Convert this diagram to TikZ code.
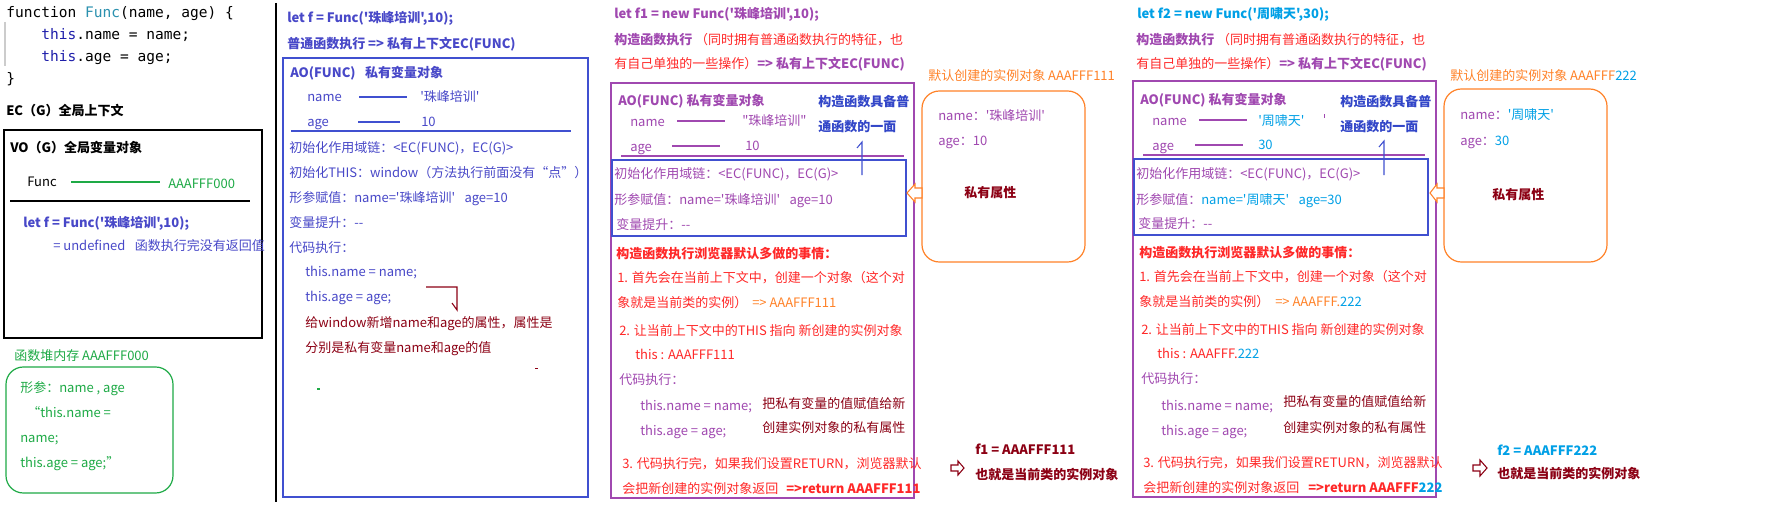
\documentclass[tikz,border=0pt]{standalone}
\usepackage{fontspec}
\newfontfamily\cjkf{Noto Sans CJK SC}
\newfontfamily\codefont{DejaVu Sans Mono}
\definecolor{pblue}{RGB}{72,72,200}
\definecolor{rblue}{RGB}{64,80,208}
\definecolor{ppur}{RGB}{160,72,176}
\definecolor{cred}{RGB}{255,40,40}
\definecolor{corange}{RGB}{255,130,40}
\definecolor{dred}{RGB}{140,0,20}
\definecolor{ccyan}{RGB}{0,160,230}
\definecolor{cgreen}{RGB}{30,170,70}
\definecolor{bblue}{RGB}{50,70,200}
\definecolor{cteal}{RGB}{43,145,175}
\definecolor{cthis}{RGB}{30,30,170}
\newcommand\fsz{\cjkf\fontsize{9.75pt}{12pt}\selectfont}
\newcommand\csz{\codefont\fontsize{10.9pt}{13pt}\selectfont}
\newcommand\gap{\hspace{7pt}}
\tikzset{
  lbl/.style={inner sep=0pt, anchor=west, text height=7.5pt, text depth=0pt, font=\fsz},
  code/.style={inner sep=0pt, anchor=west, text height=8pt, text depth=0pt, font=\csz},
  bx/.style={line width=1pt},
  rbox/.style={line width=0.9pt, rounded corners=13pt},
  tline/.style={line width=0.8pt},
}
\begin{document}
\begin{tikzpicture}[x=0.75pt,y=-0.75pt]
\fill[white] (0,0) rectangle (1766,510);
\useasboundingbox (0,0) rectangle (1766,510);

%% ---------- panel 1 ----------
\draw[gray!40, line width=1pt] (5,22) -- (5,66);
\node[code] (c1) at (6,12) {function \textcolor{cteal}{Func}(name, age) \{};
\node[code] (c2) at (41,34) {\textcolor{cthis}{this}.name = name;};
\node[code] (c3) at (41,56) {\textcolor{cthis}{this}.age = age;};
\node[code] (c4) at (6,78) {\}};
\node[lbl,font=\fsz\bfseries] (ecg) at (6,110) {EC（G）全局上下文};
\draw[bx] (4,130) rectangle (262,338);
\node[lbl,font=\fsz\bfseries] (vog) at (10,147) {VO（G）全局变量对象};
\node[lbl] (vofunc) at (27,181) {Func};
\node[lbl,text=cgreen] (voaddr) at (168,183) {AAAFFF000};
\draw[cgreen,tline] (71,182) -- (160,182);
\draw[line width=0.9pt] (10,201) -- (250,201);
\node[lbl,font=\fsz\bfseries,text=pblue] (vof) at (23,222) {let f = Func('珠峰培训',10);};
\node[lbl,text=pblue] (vou) at (53,245) {= undefined\gap 函数执行完没有返回值};
\node[lbl,text=cgreen] (heapt) at (14,355) {函数堆内存 AAAFFF000};
\draw[cgreen,rbox] (6,367) rectangle (173,493);
\node[lbl,text=cgreen] (h1) at (20,387) {形参：name , age};
\node[lbl,text=cgreen] (h2) at (27,412) {“this.name =};
\node[lbl,text=cgreen] (h3) at (20,437) {name;};
\node[lbl,text=cgreen] (h4) at (20,462) {this.age = age;”};

\draw[line width=1pt] (276,3) -- (276,502);

%% ---------- panel 2 ----------
\node[lbl,font=\fsz\bfseries,text=pblue] (p2a) at (287,18) {let f = Func('珠峰培训',10);};
\node[lbl,font=\fsz\bfseries,text=pblue] (p2b) at (287,44) {普通函数执行 => 私有上下文EC(FUNC)};
\draw[rblue,bx] (283,58) rectangle (588,497);
\node[lbl,font=\fsz\bfseries,text=pblue] (p2ao) at (290,73) {AO(FUNC)\gap 私有变量对象};
\node[lbl,text=pblue] (p2n) at (307,97) {name};
\draw[rblue,tline] (359,97) -- (407,97);
\node[lbl,text=pblue] (p2nv) at (420,97) {'珠峰培训'};
\node[lbl,text=pblue] (p2g) at (307,122) {age};
\draw[rblue,tline] (358,122) -- (400,122);
\node[lbl,text=pblue] (p2gv) at (421,121) {10};
\draw[rblue,tline] (291,131) -- (571,131);
\node[lbl,text=pblue] (p2c) at (289,147) {初始化作用域链：<EC(FUNC)，EC(G)>};
\node[lbl,text=pblue] (p2d) at (289,172) {初始化THIS：window（方法执行前面没有“点”）};
\node[lbl,text=pblue] (p2e) at (289,197) {形参赋值：name='珠峰培训'\gap age=10};
\node[lbl,text=pblue] (p2f) at (289,222) {变量提升：--};
\node[lbl,text=pblue] (p2g2) at (289,247) {代码执行：};
\node[lbl,text=pblue] (p2h) at (305,271) {this.name = name;};
\node[lbl,text=pblue] (p2i) at (305,296) {this.age = age;};
\coordinate (ar1) at (426,287);
\coordinate (ar2) at (457,287);
\coordinate (ar3) at (457,310);
\draw[dred,tline] (ar1) -- (ar2) -- (ar3) -- ++(-5,-7);
\node[lbl,text=dred] (p2j) at (305,322) {给window新增name和age的属性，属性是};
\node[lbl,text=dred] (p2k) at (305,347) {分别是私有变量name和age的值};
\fill[dred] (535,367.5) rectangle (538,369);
\fill[cgreen] (317,388) rectangle (320,390);

%% ---------- panel 3 ----------
\node[lbl,font=\fsz\bfseries,text=ppur] (p3a) at (614,14) {let f1 = new Func('珠峰培训',10);};
\node[lbl,text=ppur] (p3b) at (614,40) {\textbf{构造函数执行} \textcolor{cred}{（同时拥有普通函数执行的特征，也}};
\node[lbl,text=cred] (p3c) at (614,64) {有自己单独的一些操作）\textcolor{ppur}{\bfseries => 私有上下文EC(FUNC)}};
\draw[ppur,bx] (611,83) rectangle (914,498);
\node[lbl,font=\fsz\bfseries,text=ppur] (p3ao) at (618,100) {AO(FUNC) 私有变量对象};
\node[lbl,text=ppur] (p3n) at (630,121) {name};
\draw[ppur,tline] (677,121) -- (725,121);
\node[lbl,text=ppur] (p3nv) at (742,120) {"珠峰培训"};
\node[lbl,text=ppur] (p3g) at (630,146) {age};
\draw[ppur,tline] (672,146) -- (720,146);
\node[lbl,text=ppur] (p3gv) at (745,145) {10};
\node[lbl,font=\fsz\bfseries,text=bblue] (p3k1) at (818,102) {构造函数具备普};
\node[lbl,font=\fsz\bfseries,text=bblue] (p3k2) at (818,127) {通函数的一面};
\draw[ppur,tline] (621,156) -- (904,156);
\draw[rblue,bx] (612,160) rectangle (906,236);
\coordinate (ba1) at (862,175);
\coordinate (ba2) at (862,142);
\draw[rblue,tline] (ba1) -- (ba2) -- ++(-5,6);
\node[lbl,text=ppur] (p3c1) at (614,173) {初始化作用域链：<EC(FUNC)，EC(G)>};
\node[lbl,text=ppur] (p3c2) at (614,199) {形参赋值：name='珠峰培训'\gap age=10};
\node[lbl,text=ppur] (p3c3) at (616,224) {变量提升：--};
\node[lbl,font=\fsz\bfseries,text=cred] (p3d) at (616,253) {构造函数执行浏览器默认多做的事情：};
\node[lbl,text=cred] (p3e1) at (617,277) {1. 首先会在当前上下文中，创建一个对象（这个对};
\node[lbl,text=cred] (p3e2) at (617,302) {象就是当前类的实例）};
\node[lbl,text=corange] (p3e3) at (752,302) {=> AAAFFF111};
\node[lbl,text=cred] (p3f1) at (619,330) {2. 让当前上下文中的THIS 指向 新创建的实例对象};
\node[lbl,text=cred] (p3f2) at (635,354) {this : AAAFFF111};
\node[lbl,text=ppur] (p3g1) at (619,379) {代码执行：};
\node[lbl,text=ppur] (p3g2) at (640,405) {this.name = name;};
\node[lbl,text=ppur] (p3g3) at (640,430) {this.age = age;};
\node[lbl,text=dred] (p3h1) at (762,403) {把私有变量的值赋值给新};
\node[lbl,text=dred] (p3h2) at (762,427) {创建实例对象的私有属性};
\node[lbl,text=cred] (p3i1) at (622,463) {3. 代码执行完，如果我们设置RETURN，浏览器默认};
\node[lbl,text=cred] (p3i2) at (622,488) {会把新创建的实例对象返回};
\node[lbl,font=\fsz\bfseries,text=cred] (p3i3) at (786,488) {=>return AAAFFF111};

%% ---------- instance 1 ----------
\node[lbl,text=corange] (o1t) at (928,75) {默认创建的实例对象 AAAFFF111};
\draw[corange,rbox] (922,91) rectangle (1085,262);
\node[lbl,text=ppur] (o1n) at (938,115) {name：'珠峰培训'};
\node[lbl,text=ppur] (o1g) at (938,140) {age：10};
\node[lbl,font=\fsz\bfseries,text=dred] (o1p) at (964,192) {私有属性};
\draw[corange,fill=white,line width=0.8pt] (907,193) -- (915,184) -- (915,188) -- (922,188) -- (922,198) -- (915,198) -- (915,202) -- cycle;
\node[lbl,font=\fsz\bfseries,text=dred] (r1a) at (975,449) {f1 = AAAFFF111};
\node[lbl,font=\fsz\bfseries,text=dred] (r1b) at (975,474) {也就是当前类的实例对象};
\draw[dred,fill=white,line width=0.8pt] (951,465) -- (958,465) -- (958,461) -- (964,468) -- (958,475) -- (958,471) -- (951,471) -- cycle;

%% ---------- panel 5 ----------
\node[lbl,font=\fsz\bfseries,text=ccyan] (p5a) at (1137,14) {let f2 = new Func('周啸天',30);};
\node[lbl,text=ppur] (p5b) at (1136,40) {\textbf{构造函数执行} \textcolor{cred}{（同时拥有普通函数执行的特征，也}};
\node[lbl,text=cred] (p5c) at (1136,64) {有自己单独的一些操作）\textcolor{ppur}{\bfseries => 私有上下文EC(FUNC)}};
\draw[ppur,bx] (1133,81) rectangle (1436,497);
\node[lbl,font=\fsz\bfseries,text=ppur] (p5ao) at (1140,99) {AO(FUNC) 私有变量对象};
\node[lbl,text=ppur] (p5n) at (1152,120) {name};
\draw[ppur,tline] (1199,120) -- (1247,120);
\node[lbl,text=ccyan] (p5nv) at (1258,120) {'周啸天'};
\draw[ppur,line width=0.6pt] (1324,114) -- (1324,118);
\node[lbl,text=ppur] (p5g) at (1152,145) {age};
\draw[ppur,tline] (1195,145) -- (1243,145);
\node[lbl,text=ccyan] (p5gv) at (1258,144) {30};
\node[lbl,font=\fsz\bfseries,text=bblue] (p5k1) at (1340,102) {构造函数具备普};
\node[lbl,font=\fsz\bfseries,text=bblue] (p5k2) at (1340,127) {通函数的一面};
\draw[ppur,tline] (1143,155) -- (1425,155);
\draw[rblue,bx] (1134,159) rectangle (1428,235);
\coordinate (bb1) at (1384,175);
\coordinate (bb2) at (1384,141);
\draw[rblue,tline] (bb1) -- (bb2) -- ++(-5,6);
\node[lbl,text=ppur] (p5c1) at (1136,173) {初始化作用域链：<EC(FUNC)，EC(G)>};
\node[lbl,text=ppur] (p5c2) at (1136,199) {形参赋值：\textcolor{ccyan}{name='周啸天'\gap age=30}};
\node[lbl,text=ppur] (p5c3) at (1138,223) {变量提升：--};
\node[lbl,font=\fsz\bfseries,text=cred] (p5d) at (1139,252) {构造函数执行浏览器默认多做的事情：};
\node[lbl,text=cred] (p5e1) at (1139,276) {1. 首先会在当前上下文中，创建一个对象（这个对};
\node[lbl,text=cred] (p5e2) at (1139,301) {象就是当前类的实例）};
\node[lbl,text=corange] (p5e3) at (1275,301) {=> AAAFFF.\textcolor{ccyan}{222}};
\node[lbl,text=cred] (p5f1) at (1141,329) {2. 让当前上下文中的THIS 指向 新创建的实例对象};
\node[lbl,text=cred] (p5f2) at (1157,353) {this : AAAFFF.\textcolor{ccyan}{222}};
\node[lbl,text=ppur] (p5g1) at (1141,378) {代码执行：};
\node[lbl,text=ppur] (p5g2) at (1161,405) {this.name = name;};
\node[lbl,text=ppur] (p5g3) at (1161,430) {this.age = age;};
\node[lbl,text=dred] (p5h1) at (1283,401) {把私有变量的值赋值给新};
\node[lbl,text=dred] (p5h2) at (1283,427) {创建实例对象的私有属性};
\node[lbl,text=cred] (p5i1) at (1143,462) {3. 代码执行完，如果我们设置RETURN，浏览器默认};
\node[lbl,text=cred] (p5i2) at (1143,487) {会把新创建的实例对象返回};
\node[lbl,font=\fsz\bfseries,text=cred] (p5i3) at (1308,487) {=>return AAAFFF\textcolor{ccyan}{222}};

%% ---------- instance 2 ----------
\node[lbl,text=corange] (o2t) at (1450,75) {默认创建的实例对象 AAAFFF\textcolor{ccyan}{ 222}};
\draw[corange,rbox] (1444,89) rectangle (1607,262);
\node[lbl,text=ppur] (o2n) at (1460,114) {name：\textcolor{ccyan}{'周啸天'}};
\node[lbl,text=ppur] (o2g) at (1460,140) {age：\textcolor{ccyan}{30}};
\node[lbl,font=\fsz\bfseries,text=dred] (o2p) at (1492,194) {私有属性};
\draw[corange,fill=white,line width=0.8pt] (1430,193) -- (1437,184) -- (1437,188) -- (1444,188) -- (1444,198) -- (1437,198) -- (1437,202) -- cycle;
\node[lbl,font=\fsz\bfseries,text=ccyan] (r2a) at (1497,450) {f2 = AAAFFF222};
\node[lbl,font=\fsz\bfseries,text=dred] (r2b) at (1497,473) {也就是当前类的实例对象};
\draw[dred,fill=white,line width=0.8pt] (1473,465) -- (1480,465) -- (1480,460) -- (1487,468) -- (1480,476) -- (1480,471) -- (1473,471) -- cycle;
\end{tikzpicture}
\end{document}
